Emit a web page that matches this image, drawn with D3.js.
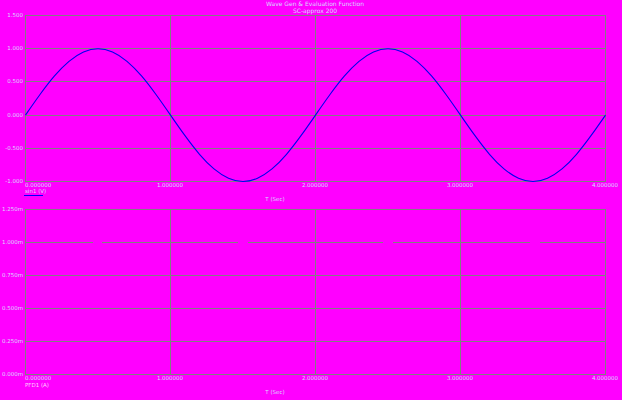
<!DOCTYPE html>
<html><head><meta charset="utf-8">
<script src="https://cdn.jsdelivr.net/npm/d3@7"></script>
<style>html,body{margin:0;padding:0;background:#ff00ff;}svg{display:block;}</style>
</head><body>
<svg id="c" width="622" height="400"></svg>
<script>
const titleLines = ["Wave Gen & Evaluation Function", "SC-approx 200"];
const xTicks = [0, 1, 2, 3, 4];
const xTickLabels = ["0.000000", "1.000000", "2.000000", "3.000000", "4.000000"];
const topYTicks = [-1.0, -0.5, 0.0, 0.5, 1.0, 1.5];
const topYTickLabels = ["-1.000", "-0.500", "0.000", "0.500", "1.000", "1.500"];
const botYTicks = [0, 0.25, 0.5, 0.75, 1.0, 1.25];
const botYTickLabels = ["0.000m", "0.250m", "0.500m", "0.750m", "1.000m", "1.250m"];
// sine wave samples (t in seconds, value in V)
const sineT = [0,0.1,0.2,0.3,0.4,0.5,0.6,0.7,0.8,0.9,1.0,1.1,1.2,1.3,1.4,1.5,1.6,1.7,1.8,1.9,2.0,2.1,2.2,2.3,2.4,2.5,2.6,2.7,2.8,2.9,3.0,3.1,3.2,3.3,3.4,3.5,3.6,3.7,3.8,3.9,4.0];
const sineV = [0,0.31,0.59,0.81,0.95,1.0,0.95,0.81,0.59,0.31,0,-0.31,-0.59,-0.81,-0.95,-1.0,-0.95,-0.81,-0.59,-0.31,0,0.31,0.59,0.81,0.95,1.0,0.95,0.81,0.59,0.31,0,-0.31,-0.59,-0.81,-0.95,-1.0,-0.95,-0.81,-0.59,-0.31,0];
// evaluation output segments (mA)
const evalStart = [0, 0.53, 1.54, 2.54, 3.55];
const evalEnd = [0.47, 1.47, 2.47, 3.48, 4.0];
const evalValue = [1.0, 1.0, 1.0, 1.0, 1.0];

const svg = d3.select("#c");
const grid = "#808080", txt = "#d8d8ff", font = "DejaVu Sans";
const L = 25, R = 605;
const x = d3.scaleLinear().domain([0, 4]).range([L, R]);
const cx = v => Math.round(x(v)) + 0.5;

svg.selectAll("text.title").data(titleLines).enter().append("text")
  .attr("x", 315).attr("y", (d, i) => 6 + i * 7).attr("text-anchor", "middle")
  .attr("font-family", font).attr("font-size", 6).attr("fill", txt).text(d => d);

function panel(top, bottom, yDomain, yTicks, yLabels, skipGrid) {
  const y = d3.scaleLinear().domain(yDomain).range([bottom, top]);
  const cy = v => Math.round(y(v)) + 0.5;
  const g = svg.append("g").attr("shape-rendering", "crispEdges");
  g.selectAll("line.h").data(yTicks.filter(d => !skipGrid.includes(d))).enter().append("line")
    .attr("x1", L).attr("x2", R + 1).attr("y1", d => cy(d)).attr("y2", d => cy(d))
    .attr("stroke", grid).attr("stroke-width", 1);
  g.selectAll("line.v").data(xTicks).enter().append("line")
    .attr("x1", d => cx(d)).attr("x2", d => cx(d)).attr("y1", Math.round(top)).attr("y2", Math.round(bottom) + 1)
    .attr("stroke", grid).attr("stroke-width", 1);
  const t = svg.append("g");
  t.selectAll("text.yl").data(yTicks).enter().append("text")
    .attr("x", L - 2).attr("y", d => y(d) + 2).attr("text-anchor", "end")
    .attr("font-family", font).attr("font-size", 5.5).attr("fill", txt)
    .text((d, i) => yLabels[i]);
  t.selectAll("text.xl").data(xTicks).enter().append("text")
    .attr("x", d => x(d)).attr("y", bottom + 6)
    .attr("text-anchor", (d, i) => i === 0 ? "start" : "middle")
    .attr("font-family", font).attr("font-size", 5.5).attr("fill", txt)
    .text((d, i) => xTickLabels[i]);
  t.append("text").attr("x", 275).attr("y", bottom + 20).attr("text-anchor", "middle")
    .attr("font-family", font).attr("font-size", 5.5).attr("fill", txt).text("T (Sec)");
  return {g: t, y, cy};
}

const p1 = panel(15, 181, [-1.0, 1.5], topYTicks, topYTickLabels, []);
const p2 = panel(209, 374, [0, 1.25], botYTicks, botYTickLabels, [1.0]);

const sineData = sineT.map((t, i) => [t, sineV[i]]);
p1.g.append("path").datum(sineData)
  .attr("d", d3.line().x(d => x(d[0]) + 0.5).y(d => p1.y(d[1]) + 0.5).curve(d3.curveNatural))
  .attr("fill", "none").attr("stroke", "#0000ee").attr("stroke-width", 1.1);

p1.g.append("text").attr("x", 25).attr("y", 193).attr("font-family", font)
  .attr("font-size", 5.5).attr("fill", txt).text("sin1 (V)");
p1.g.append("line").attr("x1", 24).attr("x2", 43).attr("y1", 195.5).attr("y2", 195.5)
  .attr("stroke", "#0000ff").attr("stroke-width", 1);

evalStart.forEach((s, i) => {
  p2.g.append("path").datum([[s, evalValue[i]], [evalEnd[i], evalValue[i]]])
    .attr("d", d3.line().x(d => x(d[0])).y(d => p2.cy(d[1])))
    .attr("shape-rendering", "crispEdges")
    .attr("fill", "none").attr("stroke", grid).attr("stroke-width", 1);
});
p2.g.append("text").attr("x", 25).attr("y", 387).attr("font-family", font)
  .attr("font-size", 5.5).attr("fill", "#ffd0ff").text("PFD1 (A)");
</script>
</body></html>
